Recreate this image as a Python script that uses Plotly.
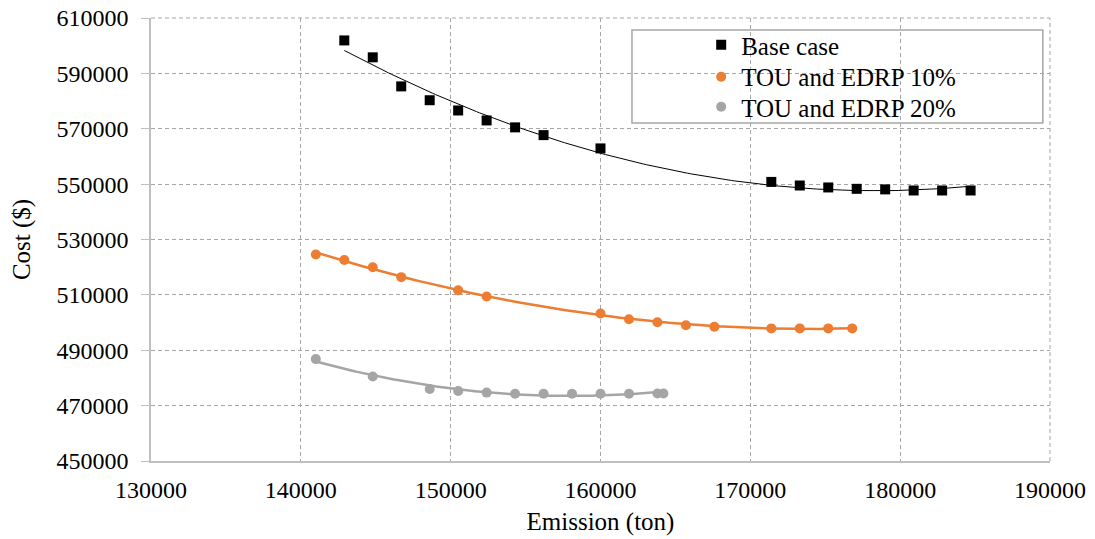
import numpy as np
import plotly.graph_objects as go

# Base case
base_x = [142900, 144800, 146700, 148600, 150500, 152400, 154300, 156200, 160000,
          171400, 173300, 175200, 177100, 179000, 180900, 182800, 184700]
base_y = [601900, 595800, 585300, 580300, 576600, 573000, 570500, 567700, 562900,
          550800, 549500, 548800, 548300, 548100, 547700, 547700, 547700]

# TOU and EDRP 10%
tou10_x = [141000, 142900, 144800, 146700, 150500, 152400, 160000, 161900, 163800,
           165700, 167600, 171400, 173300, 175200, 176800]
tou10_y = [524600, 522600, 520000, 516400, 511700, 509400, 503300, 501200, 500100,
           499000, 498500, 497900, 497900, 497900, 497900]

# TOU and EDRP 20%
tou20_x = [141000, 144800, 148600, 150500, 152400, 154300, 156200, 158100, 160000,
           161900, 163800, 164200]
tou20_y = [486800, 480500, 476000, 475300, 474700, 474300, 474300, 474300, 474300,
           474300, 474400, 474400]

names = ["Base case", "TOU and EDRP 10%", "TOU and EDRP 20%"]
colors = ["#000000", "#ED7D31", "#A5A5A5"]
symbols = ["square", "circle", "circle"]
msizes = [10, 10, 10]
trend_widths = [1, 2.5, 2.5]
legend_ids = ["legend", "legend2", "legend3"]
legend_rows = [0.939, 0.867, 0.799]

x_ticks = [130000, 140000, 150000, 160000, 170000, 180000, 190000]
y_ticks = [450000, 470000, 490000, 510000, 530000, 550000, 570000, 590000, 610000]

FONT = "Liberation Serif, Times New Roman, serif"
GRID = "#A6A6A6"

fig = go.Figure()
series = [(base_x, base_y), (tou10_x, tou10_y), (tou20_x, tou20_y)]

# trendlines (polynomial order 2 fitted to each series)
for (xs, ys), c, w in zip(series, colors, trend_widths):
    xa = np.array(xs, dtype=float)
    ya = np.array(ys, dtype=float)
    coef = np.polyfit(xa, ya, 2)
    tx = np.linspace(xa.min(), xa.max(), 200)
    ty = np.polyval(coef, tx)
    fig.add_trace(go.Scatter(x=tx, y=ty, mode="lines", line=dict(color=c, width=w),
                             showlegend=False, hoverinfo="skip"))

for (xs, ys), n, c, s, m, lg in zip(series, names, colors, symbols, msizes, legend_ids):
    fig.add_trace(go.Scatter(x=xs, y=ys, mode="markers", name=n, legend=lg,
                             marker=dict(color=c, symbol=s, size=m, line=dict(width=0))))

grid = dict(showgrid=True, gridcolor=GRID, gridwidth=1, griddash="4px,3px")

legends = {}
for lg, ly in zip(legend_ids, legend_rows):
    legends[lg] = dict(x=0.612, y=ly, xanchor="left", yanchor="middle",
                       bgcolor="rgba(0,0,0,0)", borderwidth=0,
                       font=dict(size=25, family=FONT, color="#000000"))

fig.update_layout(
    width=1095, height=539,
    margin=dict(l=151, r=45, t=18, b=78, autoexpand=False),
    paper_bgcolor="white", plot_bgcolor="white",
    font=dict(family=FONT, size=24, color="#000000"),
    xaxis=dict(range=[130000, 190000], tickvals=x_ticks, ticktext=[str(v) for v in x_ticks],
               showline=True, linecolor="#BFBFBF", linewidth=1.5, ticks="",
               zeroline=False, automargin=False, ticklabelstandoff=6,
               ticklabeloverflow="allow",
               title=dict(text="Emission (ton)", standoff=11,
                          font=dict(family=FONT, size=25, color="#000000")),
               tickfont=dict(family=FONT, size=24, color="#000000"), **grid),
    yaxis=dict(range=[450000, 610000], tickvals=y_ticks, ticktext=[str(v) for v in y_ticks],
               showline=True, linecolor="#BFBFBF", linewidth=1.5, ticks="outside",
               ticklen=8, tickcolor="#BFBFBF", zeroline=False, automargin=False,
               ticklabelstandoff=8, ticklabeloverflow="allow",
               title=dict(text="Cost ($)", standoff=19,
                          font=dict(family=FONT, size=25, color="#000000")),
               tickfont=dict(family=FONT, size=24, color="#000000"), **grid),
    shapes=[
        dict(type="line", xref="paper", yref="paper", x0=0, x1=1, y0=1, y1=1,
             line=dict(color=GRID, width=1, dash="4px,3px"), layer="below"),
        dict(type="line", xref="paper", yref="paper", x0=1, x1=1, y0=0, y1=1,
             line=dict(color=GRID, width=1, dash="4px,3px"), layer="below"),
        dict(type="rect", xref="paper", yref="paper", x0=0.535, x1=0.992,
             y0=0.763, y1=0.973, line=dict(color="#A6A6A6", width=1.5),
             fillcolor="white", layer="below"),
    ],
    **legends,
)

fig.write_html("out.html", config={"displayModeBar": False},
               post_script="document.body.style.margin='0';document.body.style.overflow='hidden';")
